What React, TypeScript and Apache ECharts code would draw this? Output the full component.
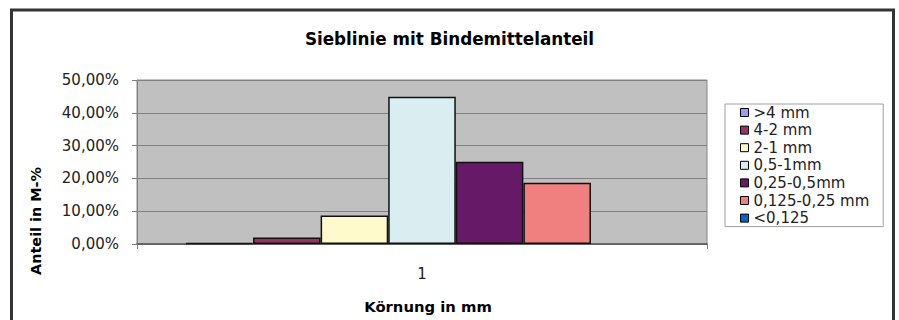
import React, { useEffect, useRef } from 'react';
import * as echarts from 'echarts';

const categories = ['1'];
const seriesNames = ['>4 mm', '4-2 mm', '2-1 mm', '0,5-1mm', '0,25-0,5mm', '0,125-0,25 mm', '<0,125'];
const seriesValues = [0.3, 2.0, 8.7, 44.9, 25.1, 18.7, 0];
const seriesColors = ['#9999FF', '#993366', '#FFFACC', '#DAEEF2', '#661966', '#F08080', '#0066CC'];
const yMin = 0;
const yMax = 50;
const yStep = 10;
const titleText = 'Sieblinie mit Bindemittelanteil';
const yAxisTitle = 'Anteil in M-%';
const xAxisTitle = 'Körnung in mm';

const FONT = '"DejaVu Sans", sans-serif';

export default function App() {
  const ref = useRef<HTMLDivElement>(null);
  useEffect(() => {
    document.body.style.margin = '0';
    if (!ref.current) return;
    const chart = echarts.init(ref.current, null, { renderer: 'svg' });
    const option: any = {
      animation: false,
      backgroundColor: '#ffffff',
      textStyle: { fontFamily: FONT },
      title: {
        text: titleText,
        left: 'center',
        top: 30,
        padding: 0,
        textStyle: { fontFamily: FONT, fontSize: 16.8, fontWeight: 'bold', color: '#000', lineHeight: 18 },
      },
      grid: {
        left: 137,
        top: 80,
        width: 570,
        height: 164,
        show: true,
        backgroundColor: '#C0C0C0',
        borderColor: '#888888',
        borderWidth: 1,
        containLabel: false,
      },
      legend: {
        orient: 'vertical',
        left: 725,
        top: 104,
        padding: [1, 14, 1, 15],
        itemWidth: 8,
        itemHeight: 8,
        itemGap: 2.6,
        icon: 'rect',
        borderColor: '#A0A0A0',
        borderWidth: 1,
        backgroundColor: '#ffffff',
        itemStyle: { borderColor: '#000', borderWidth: 1 },
        textStyle: { fontFamily: FONT, fontSize: 15, color: '#222', lineHeight: 15 },
        data: seriesNames,
      },
      xAxis: {
        type: 'category',
        data: categories,
        axisLine: { show: true, lineStyle: { color: '#555555', width: 1.5 } },
        axisTick: { show: true, length: 5, lineStyle: { color: '#808080' } },
        axisLabel: { fontFamily: FONT, fontSize: 15, color: '#222', margin: 22 },
        splitLine: { show: false },
      },
      yAxis: {
        type: 'value',
        min: yMin,
        max: yMax,
        interval: yStep,
        axisLine: { show: true, lineStyle: { color: '#808080', width: 1 } },
        axisTick: { show: true, length: 5, lineStyle: { color: '#808080' } },
        axisLabel: {
          fontFamily: FONT,
          fontSize: 15,
          color: '#222',
          margin: 18,
          formatter: (v: number) => v.toFixed(2).replace('.', ',') + '%',
        },
        splitLine: { show: true, lineStyle: { color: '#808080', width: 1.2 } },
      },
      series: seriesNames.map((name, i) => ({
        name,
        type: 'bar',
        data: [seriesValues[i]],
        barGap: '0%',
        barCategoryGap: '17%',
        itemStyle: {
          color: seriesColors[i],
          borderColor: '#111',
          borderWidth: seriesValues[i] > 0 ? 1.5 : 0,
        },
      })),
      graphic: [
        {
          type: 'rect',
          shape: { x: 11.5, y: 10, width: 882, height: 330 },
          style: { fill: 'none', stroke: '#333', lineWidth: 3 },
          z: 100,
        },
        {
          type: 'text',
          x: 36,
          y: 221,
          rotation: Math.PI / 2,
          style: {
            text: yAxisTitle,
            align: 'center',
            verticalAlign: 'middle',
            font: `bold 14.4px ${FONT}`,
            fill: '#000',
          },
        },
        {
          type: 'text',
          x: 428,
          y: 306,
          style: {
            text: xAxisTitle,
            align: 'center',
            verticalAlign: 'middle',
            font: `bold 14.8px ${FONT}`,
            fill: '#000',
          },
        },
      ],
    };
    chart.setOption(option);
    return () => chart.dispose();
  }, []);
  return <div ref={ref} style={{ width: 899, height: 320 }} />;
}
